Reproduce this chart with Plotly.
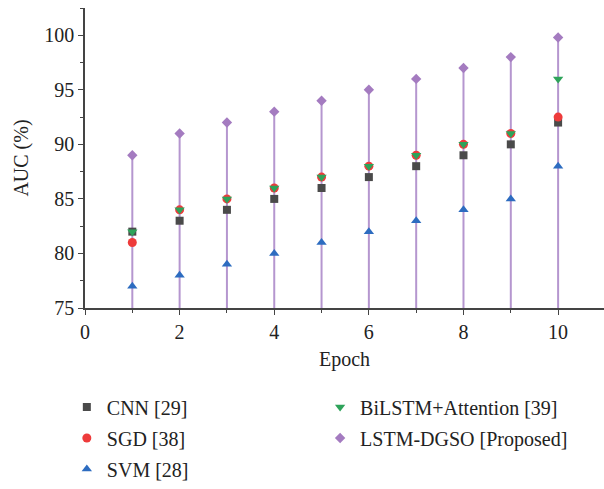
import plotly.graph_objects as go

epochs = [1, 2, 3, 4, 5, 6, 7, 8, 9, 10]
cnn = [82, 83, 84, 85, 86, 87, 88, 89, 90, 92]
sgd = [81, 84, 85, 86, 87, 88, 89, 90, 91, 92.5]
svm = [77, 78, 79, 80, 81, 82, 83, 84, 85, 88]
bilstm = [82, 84, 85, 86, 87, 88, 89, 90, 91, 96]
lstm_dgso = [89, 91, 92, 93, 94, 95, 96, 97, 98, 99.8]
y_base = 75

FONT = "Liberation Serif"
FS = 20

stem_x, stem_y = [], []
for e, v in zip(epochs, lstm_dgso):
    stem_x += [e, e, None]
    stem_y += [y_base, v, None]

fig = go.Figure()
fig.add_trace(go.Scatter(x=stem_x, y=stem_y, mode="lines",
                         line=dict(color="#b596cf", width=2),
                         showlegend=False, hoverinfo="skip"))

series = [
    ("CNN [29]", cnn, "square", "#4a4a4a", 8, "legend"),
    ("SGD [38]", sgd, "circle", "#ee3b3b", 9, "legend"),
    ("SVM [28]", svm, "triangle-up", "#2d6cc0", 9, "legend"),
    ("BiLSTM+Attention [39]", bilstm, "triangle-down", "#2ea35a", 9, "legend2"),
    ("LSTM-DGSO [Proposed]", lstm_dgso, "diamond", "#a47bc0", 8, "legend2"),
]
for i, (name, vals, sym, col, sz, lg) in enumerate(series):
    fig.add_trace(go.Scatter(x=epochs, y=vals, mode="markers", name=name,
                             marker=dict(symbol=sym, color=col, size=sz, line=dict(width=0)),
                             legend=lg, legendgroup=name))

axis_common = dict(showline=True, linecolor="#444", linewidth=1.5, showgrid=False,
                   zeroline=False, ticks="outside", ticklen=5, tickcolor="#444",
                   tickfont=dict(family=FONT, size=FS, color="#222"))
fig.update_xaxes(range=[0, 10.97], tickvals=[0, 2, 4, 6, 8, 10],
                 minor=dict(tickvals=[1, 3, 5, 7, 9], ticks="outside", ticklen=3, tickcolor="#444"),
                 title=dict(text="Epoch", font=dict(family=FONT, size=FS, color="#222"), standoff=10),
                 **axis_common)
fig.update_yaxes(range=[75, 102.5], tickvals=[75, 80, 85, 90, 95, 100],
                 minor=dict(tickvals=[77.5, 82.5, 87.5, 92.5, 97.5, 102.5], ticks="outside", ticklen=3, tickcolor="#444"),
                 title=dict(text="AUC (%)", font=dict(family=FONT, size=FS, color="#222"), standoff=10),
                 **axis_common)

legend_common = dict(font=dict(family=FONT, size=FS, color="#222"), bgcolor="rgba(0,0,0,0)",
                     traceorder="grouped", tracegroupgap=2, yanchor="top", xanchor="left",
                     itemsizing="trace")
fig.update_layout(
    width=604, height=489,
    margin=dict(l=85, r=0, t=8, b=178),
    plot_bgcolor="white", paper_bgcolor="white",
    showlegend=True,
    legend=dict(x=-0.035, y=-0.265, **legend_common),
    legend2=dict(x=0.453, y=-0.265, **legend_common),
)
fig.write_html("out.html")
